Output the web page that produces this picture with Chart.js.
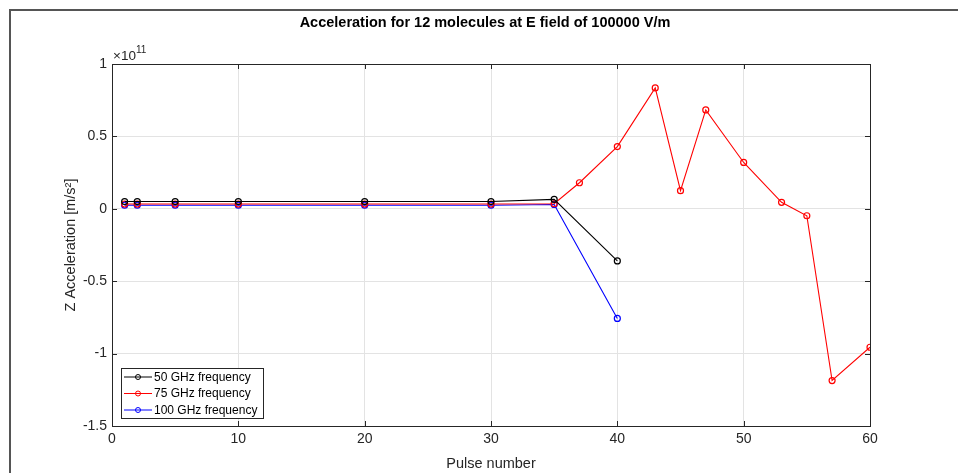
<!DOCTYPE html>
<html>
<head>
<meta charset="utf-8">
<script src="https://cdn.jsdelivr.net/npm/chart.js@4/dist/chart.umd.min.js"></script>
<style>
  html, body { margin: 0; padding: 0; background: #fff; overflow: hidden; }
  #wrap { position: relative; width: 958px; height: 473px; }
  #frame { position: absolute; left: 9px; top: 9px; width: 1200px; height: 1200px;
           border: 2px solid #555; box-sizing: border-box; }
  canvas { position: absolute; left: 0; top: 0; }
</style>
</head>
<body>
<div id="wrap">
  <div id="frame"></div>
  <canvas id="c" width="958" height="473"></canvas>
</div>
<script>
// ---- data (Z acceleration in units of 1e11 m/s^2) ----
const EXPONENT = 11;
const pulses50 = [1, 2, 5, 10, 20, 30, 35, 40];
const acc50    = [0.05, 0.05, 0.05, 0.05, 0.05, 0.05, 0.065, -0.36];
const pulses75 = [1, 2, 5, 10, 20, 30, 35, 37, 40, 43, 45, 47, 50, 53, 55, 57, 60];
const acc75    = [0.033, 0.033, 0.033, 0.033, 0.033, 0.033, 0.035, 0.18, 0.43, 0.835, 0.125, 0.683, 0.32, 0.045, -0.048, -1.186, -0.956];
const pulses100 = [1, 2, 5, 10, 20, 30, 35, 40];
const acc100    = [0.025, 0.025, 0.025, 0.025, 0.025, 0.025, 0.03, -0.757];
const seriesNames = ['50 GHz frequency', '75 GHz frequency', '100 GHz frequency'];
const xTicks = [0, 10, 20, 30, 40, 50, 60];
const yTicks = [-1.5, -1, -0.5, 0, 0.5, 1];
const titleText = 'Acceleration for 12 molecules at E field of 100000 V/m';
const xLabel = 'Pulse number';
const yLabel = 'Z Acceleration [m/s\u00B2]';

const FONT = '"Liberation Sans", Arial, Helvetica, sans-serif';
const colors = ['#000000', '#ff0000', '#0000ff'];

function pts(xs, ys) { return xs.map((x, i) => ({ x: x, y: ys[i] })); }

function ds(label, data, color) {
  return {
    label: label, data: data, borderColor: color, borderWidth: 1.1,
    pointRadius: 3, pointBorderWidth: 1.2, pointBackgroundColor: 'rgba(0,0,0,0)',
    pointBorderColor: color, pointStyle: 'circle', tension: 0, fill: false
  };
}

const extras = {
  id: 'extras',
  afterDraw(chart) {
    const ctx = chart.ctx;
    const a = chart.chartArea;
    const xs = chart.scales.x, ys = chart.scales.y;
    ctx.save();
    // box
    ctx.strokeStyle = '#262626';
    ctx.lineWidth = 1;
    ctx.strokeRect(Math.round(a.left) + 0.5, Math.round(a.top) + 0.5,
                   Math.round(a.right - a.left), Math.round(a.bottom - a.top));
    // inner ticks
    ctx.beginPath();
    const tl = 5;
    xTicks.forEach(v => {
      const px = Math.round(xs.getPixelForValue(v)) + 0.5;
      ctx.moveTo(px, a.bottom); ctx.lineTo(px, a.bottom - tl);
      ctx.moveTo(px, a.top); ctx.lineTo(px, a.top + tl);
    });
    yTicks.forEach(v => {
      const py = Math.round(ys.getPixelForValue(v)) + 0.5;
      ctx.moveTo(a.left, py); ctx.lineTo(a.left + tl, py);
      ctx.moveTo(a.right, py); ctx.lineTo(a.right - tl, py);
    });
    ctx.stroke();
    // title
    ctx.fillStyle = '#000';
    ctx.font = 'bold 14.5px ' + FONT;
    ctx.textAlign = 'center';
    ctx.textBaseline = 'middle';
    ctx.fillText(titleText, 485, 23);
    // exponent
    ctx.fillStyle = '#262626';
    ctx.textAlign = 'left';
    ctx.textBaseline = 'alphabetic';
    ctx.font = '13.5px ' + FONT;
    ctx.fillText('\u00D710', a.left + 1, 60);
    const w = ctx.measureText('\u00D710').width;
    ctx.font = '10px ' + FONT;
    ctx.fillText(String(EXPONENT), a.left + 1 + w, 53);
    // legend
    const lx = 121, ly = 368, lw = 142, lh = 50;
    ctx.fillStyle = '#fff';
    ctx.fillRect(lx, ly, lw, lh);
    ctx.strokeStyle = '#262626';
    ctx.strokeRect(lx + 0.5, ly + 0.5, lw, lh);
    ctx.font = '12px ' + FONT;
    ctx.textBaseline = 'middle';
    chart.data.datasets.forEach((d, i) => {
      const yy = ly + 9 + i * 16.5;
      ctx.strokeStyle = d.borderColor;
      ctx.lineWidth = 1;
      ctx.beginPath();
      ctx.moveTo(lx + 3, yy); ctx.lineTo(lx + 31, yy); ctx.stroke();
      ctx.beginPath();
      ctx.arc(lx + 17, yy, 2.5, 0, Math.PI * 2); ctx.stroke();
      ctx.fillStyle = '#000';
      ctx.fillText(d.label, lx + 33, yy + 0.5);
    });
    ctx.restore();
  }
};

new Chart(document.getElementById('c'), {
  type: 'line',
  data: {
    datasets: [
      ds(seriesNames[0], pts(pulses50, acc50), colors[0]),
      ds(seriesNames[1], pts(pulses75, acc75), colors[1]),
      ds(seriesNames[2], pts(pulses100, acc100), colors[2])
    ]
  },
  options: {
    responsive: false,
    animation: false,
    devicePixelRatio: 1,
    layout: { padding: { left: 0, right: 88, top: 64, bottom: 0 } },
    plugins: { legend: { display: false }, title: { display: false }, tooltip: { enabled: false } },
    scales: {
      x: {
        type: 'linear', min: 0, max: 60,
        afterBuildTicks: s => { s.ticks = xTicks.map(v => ({ value: v })); },
        afterFit: s => { s.height = 47; },
        grid: { color: '#e3e3e3', drawTicks: false },
        border: { display: false },
        ticks: { color: '#262626', font: { family: FONT, size: 14 }, padding: 5 },
        title: { display: true, text: xLabel, color: '#262626', font: { family: FONT, size: 14.5 }, padding: { top: 1, bottom: 0 } }
      },
      y: {
        type: 'linear', min: -1.5, max: 1,
        afterBuildTicks: s => { s.ticks = yTicks.map(v => ({ value: v })); },
        afterFit: s => { s.width = 112; },
        grid: { color: '#e3e3e3', drawTicks: false },
        border: { display: false },
        ticks: { color: '#262626', font: { family: FONT, size: 14 }, padding: 5,
                 callback: v => String(v) },
        title: { display: true, text: yLabel, color: '#262626', font: { family: FONT, size: 14.5 }, padding: { top: 62, bottom: 0 } }
      }
    }
  },
  plugins: [extras]
});
</script>
</body>
</html>
